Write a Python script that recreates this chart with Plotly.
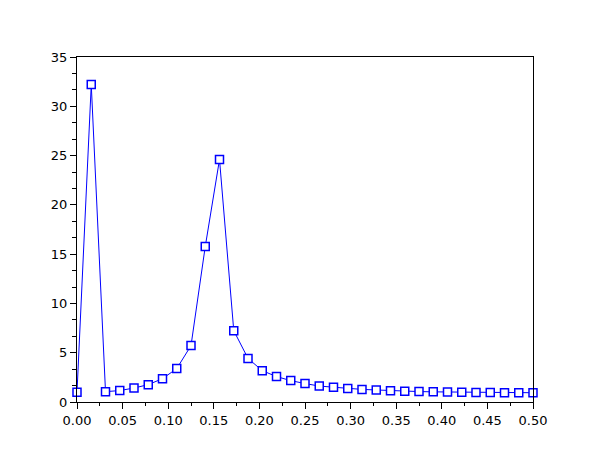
import plotly.graph_objects as go

x_vals = [k / 64 for k in range(33)]
y_vals = [1.0, 32.2, 1.05, 1.16, 1.42, 1.76, 2.37, 3.39, 5.72, 15.77, 24.6, 7.24,
          4.42, 3.18, 2.58, 2.17, 1.87, 1.62, 1.50, 1.36, 1.28, 1.22, 1.15, 1.10,
          1.06, 1.03, 1.01, 0.99, 0.97, 0.96, 0.95, 0.95, 0.94]
x_ticks = [0.0, 0.05, 0.10, 0.15, 0.20, 0.25, 0.30, 0.35, 0.40, 0.45, 0.50]
x_tick_labels = ["0.00", "0.05", "0.10", "0.15", "0.20", "0.25", "0.30", "0.35", "0.40", "0.45", "0.50"]
y_ticks = [0, 5, 10, 15, 20, 25, 30, 35]

fig = go.Figure()
fig.add_trace(go.Scatter(
    x=x_vals, y=y_vals, mode="lines+markers",
    line=dict(color="#0000FF", width=1),
    marker=dict(symbol="square", size=8, color="white", line=dict(width=1.5, color="#0000FF")),
    cliponaxis=False, showlegend=False,
))
fig.update_layout(
    width=610, height=460,
    margin=dict(l=77, r=77, t=57, b=58),
    paper_bgcolor="white", plot_bgcolor="white",
    font=dict(family="DejaVu Sans", size=13, color="black"),
)
fig.update_xaxes(
    range=[0, 0.5], tickvals=x_ticks, ticktext=x_tick_labels,
    showline=True, linecolor="black", linewidth=1, mirror=True,
    ticks="outside", ticklen=6, tickcolor="black", showgrid=False, zeroline=False,
    minor=dict(dtick=0.025, tick0=0, ticks="outside", ticklen=3, tickcolor="black", showgrid=False),
)
fig.update_yaxes(
    range=[0, 35], tickvals=y_ticks,
    showline=True, linecolor="black", linewidth=1, mirror=True,
    ticks="outside", ticklen=6, tickcolor="black", showgrid=False, zeroline=False,
    minor=dict(dtick=5 / 3, tick0=0, ticks="outside", ticklen=4, tickcolor="black", showgrid=False),
)
fig.write_html("out.html")
